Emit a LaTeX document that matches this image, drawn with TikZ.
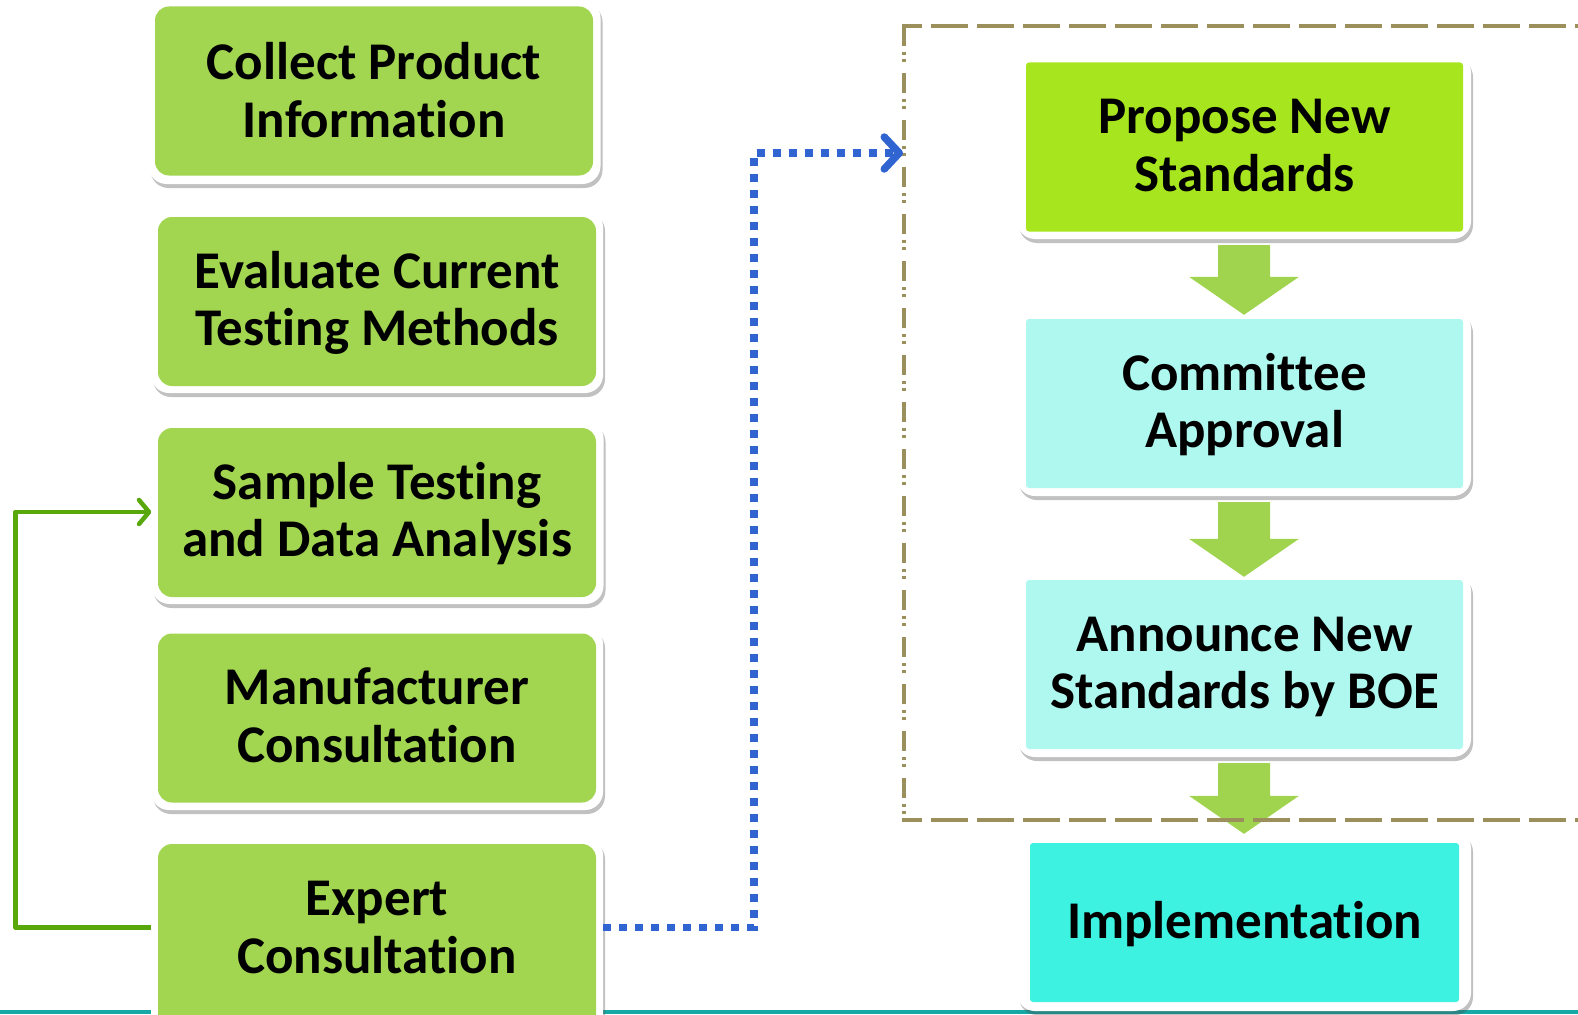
\documentclass[tikz,border=0pt]{standalone}
\usepackage{fontspec}
\setmainfont{Carlito}[Ligatures=NoCommon]
\usetikzlibrary{shadows,arrows.meta,calc}
\definecolor{lgreen}{RGB}{162,213,80}
\definecolor{pgreen}{RGB}{167,230,30}
\definecolor{lcyan}{RGB}{175,248,240}
\definecolor{icyan}{RGB}{61,242,224}
\definecolor{barrowc}{RGB}{160,212,78}
\definecolor{framec}{RGB}{155,143,92}
\definecolor{bluec}{RGB}{48,100,208}
\definecolor{glinec}{RGB}{88,168,12}
\definecolor{tealc}{RGB}{22,168,165}
\newcommand\blockarrow[2]{\fill[barrowc] let \p1=(#1.south), \p2=(#2.north) in
 (\x1-26pt,\y1-6pt) -- (\x1+26pt,\y1-6pt) -- (\x1+26pt,\y2+34pt) -- (\x1+55pt,\y2+34pt)
 -- (\x1,\y2-4pt) -- (\x1-55pt,\y2+34pt) -- (\x1-26pt,\y2+34pt) -- cycle;}
\begin{document}
\begin{tikzpicture}[x=1pt,y=-1pt,
  outerbox/.style={fill=white, rounded corners=18pt, inner sep=0pt,
    drop shadow={shadow xshift=2pt,shadow yshift=-4pt,opacity=0.35,fill=black!70}},
  lbox/.style={fill=lgreen, rounded corners=14pt, inner sep=0pt, align=center,
    font=\fontsize{53}{57.5}\selectfont\bfseries, text height=88pt, text depth=0pt,
    minimum width=438pt, minimum height=169pt},
  rbox/.style={rounded corners=3pt, inner sep=0pt, align=center,
    font=\fontsize{53}{57.5}\selectfont\bfseries, text height=88pt, text depth=0pt,
    minimum width=437pt, minimum height=169pt},
  louter/.style={outerbox, minimum width=452pt, minimum height=184pt},
  router/.style={outerbox, minimum width=454pt, minimum height=184pt},
  bluedots/.style={draw=bluec, line width=7.5pt, dash pattern=on 8pt off 8pt,
    -{Straight Barb[length=15pt,width=32pt,round]}},
  gconn/.style={draw=glinec, line width=4.5pt, line join=round,
    -{Straight Barb[length=10pt,width=24pt,round]}},
  frameline/.style={draw=framec, line width=4pt}
]
\useasboundingbox (0,0) rectangle (1578,1014);
\clip (0,0) rectangle (1578,1014);
% bottom teal line
\draw[tealc, line width=4pt] (0,1012) -- (1578,1012);

% left column
\node[louter] (b1o) at (374.5,92) {};
\node[lbox, text height=92pt] (b1) at (374,91) {Collect Product\\Information};
\node[louter] (b2o) at (377,301) {};
\node[lbox] (b2) at (377,301.5) {Evaluate Current\\Testing Methods};
\node[louter] (b3o) at (377.5,512) {};
\node[lbox] (b3) at (377,512.5) {Sample Testing\\and Data Analysis};
\node[louter] (b4o) at (377,718) {};
\node[lbox] (b4) at (377,718) {Manufacturer\\Consultation};
\node[louter, minimum height=203pt] (b5o) at (377,938.5) {};
\node[lbox, minimum height=189pt, text height=69pt] (b5) at (377,938.5) {Expert\\Consultation};

% right column
\node[router] (r1o) at (1244,147) {};
\node[rbox, fill=pgreen] (r1) at (1244.5,147) {Propose New\\Standards};
\node[router, minimum height=185pt] (r2o) at (1244,403.5) {};
\node[rbox, fill=lcyan] (r2) at (1244.5,403.5) {Committee\\Approval};
\node[router] (r3o) at (1244,665) {};
\node[rbox, fill=lcyan] (r3) at (1244.5,664.5) {Announce New\\Standards by BOE};
\node[router, minimum height=181pt] (r4o) at (1244,920.5) {};
\node[rbox, fill=icyan, minimum width=429pt, minimum height=159pt, text height=31pt] (r4) at (1244.5,922.5) {Implementation};

% block arrows
\blockarrow{r1o}{r2o}
\blockarrow{r2o}{r3o}
\blockarrow{r3o}{r4o}

% dashed frame
\draw[frameline, dash pattern=on 20pt off 6pt on 3pt off 4pt on 3pt off 11pt] (904,26) -- (904,820);
\draw[frameline, dash pattern=on 37pt off 9pt, dash phase=17pt] (902,26) -- (1600,26);
\draw[frameline, dash pattern=on 37pt off 9pt, dash phase=17pt] (902,820) -- (1600,820);
\coordinate (fin) at (903,153);

% connectors
\draw[bluedots] ($(b5o.east)+(0,-11)$) -| ($(fin)+(-149,0)$) -- (fin);
\draw[gconn] ($(b5o.west)+(0,-11)$) -| ($(b3o.west)+(-136,0)$) -- (b3o.west);
\end{tikzpicture}
\end{document}
